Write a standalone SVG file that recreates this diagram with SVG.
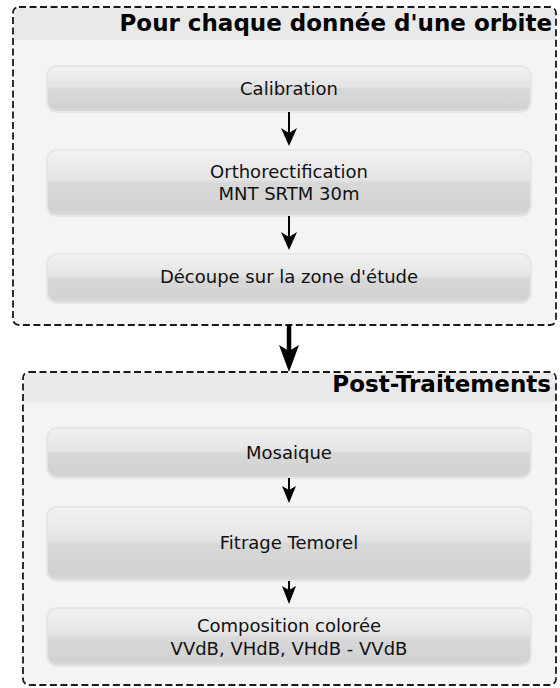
<svg xmlns="http://www.w3.org/2000/svg" width="560" height="688" viewBox="0 0 560 688">
<defs>
<linearGradient id="ng" x1="0" y1="0" x2="0" y2="1">
<stop offset="0" stop-color="#f2f2f2"/>
<stop offset="0.45" stop-color="#e4e4e4"/>
<stop offset="0.5" stop-color="#d8d8d8"/>
<stop offset="0.9" stop-color="#d2d2d2"/>
<stop offset="1" stop-color="#dcdcdc"/>
</linearGradient>
</defs>
<style>
.frame{fill:#f4f4f4;stroke:#1a1a1a;stroke-width:1.8;stroke-dasharray:7,3.5}
.band{fill:#e9e9e9}
.title{font-family:"DejaVu Sans",sans-serif;font-weight:bold;font-size:23px;fill:#000;text-anchor:end}
.node{fill:url(#ng);stroke:#e6e6e6;stroke-width:2}
.lbl{font-family:"DejaVu Sans",sans-serif;font-size:18px;fill:#111;text-anchor:middle}
.conn{stroke:#000;stroke-width:2;fill:none}
.head{fill:#000}
</style>
<rect width="560" height="688" fill="#ffffff"/>
<g id="group1">
<rect class="frame" x="13" y="7" width="543" height="318" rx="6"/>
<path class="band" d="M14,40 V13 a5,5 0 0 1 5,-5 H550 a5,5 0 0 1 5,5 V40 z"/>
<text class="title" x="552" y="31">Pour chaque donnée d'une orbite</text>
</g>
<g id="group2">
<rect class="frame" x="23" y="372" width="533" height="313" rx="6"/>
<path class="band" d="M24,402 V378 a5,5 0 0 1 5,-5 H550 a5,5 0 0 1 5,5 V402 z"/>
<text class="title" x="551" y="392">Post-Traitements</text>
</g>
<g id="calibration">
<rect class="node" x="47" y="66" width="484" height="46" rx="10"/>
<text class="lbl" x="289" y="95">Calibration</text>
</g>
<g id="orthorectification">
<rect class="node" x="47" y="150" width="484" height="66" rx="10"/>
<text class="lbl" x="289" y="178">Orthorectification</text>
<text class="lbl" x="289" y="200">MNT SRTM 30m</text>
</g>
<g id="decoupe">
<rect class="node" x="47" y="254" width="484" height="49" rx="10"/>
<text class="lbl" x="289" y="283">Découpe sur la zone d'étude</text>
</g>
<g id="mosaique">
<rect class="node" x="47" y="428" width="484" height="50" rx="10"/>
<text class="lbl" x="289" y="459">Mosaique</text>
</g>
<g id="fitrage">
<rect class="node" x="47" y="507" width="484" height="74" rx="10"/>
<text class="lbl" x="289" y="549">Fitrage Temorel</text>
</g>
<g id="composition">
<rect class="node" x="47" y="608" width="484" height="58" rx="10"/>
<text class="lbl" x="289" y="632">Composition colorée</text>
<text class="lbl" x="289" y="655">VVdB, VHdB, VHdB - VVdB</text>
</g>
<g id="connectors">
<line class="conn" x1="289" y1="112" x2="289" y2="140"/>
<path class="head" d="M281,128 L289,146 L297,128 L289,133 z"/>
<line class="conn" x1="289" y1="216" x2="289" y2="244"/>
<path class="head" d="M281,232 L289,250 L297,232 L289,237 z"/>
<line stroke="#000" stroke-width="4.5" x1="289" y1="325" x2="289" y2="356"/>
<path class="head" d="M279,345 L289,372 L299,345 L289,351 z"/>
<line class="conn" x1="289" y1="478" x2="289" y2="497"/>
<path class="head" d="M282,486 L289,503 L296,486 L289,490 z"/>
<line class="conn" x1="289" y1="581" x2="289" y2="597"/>
<path class="head" d="M282,586 L289,604 L296,586 L289,590 z"/>
</g>
</svg>
